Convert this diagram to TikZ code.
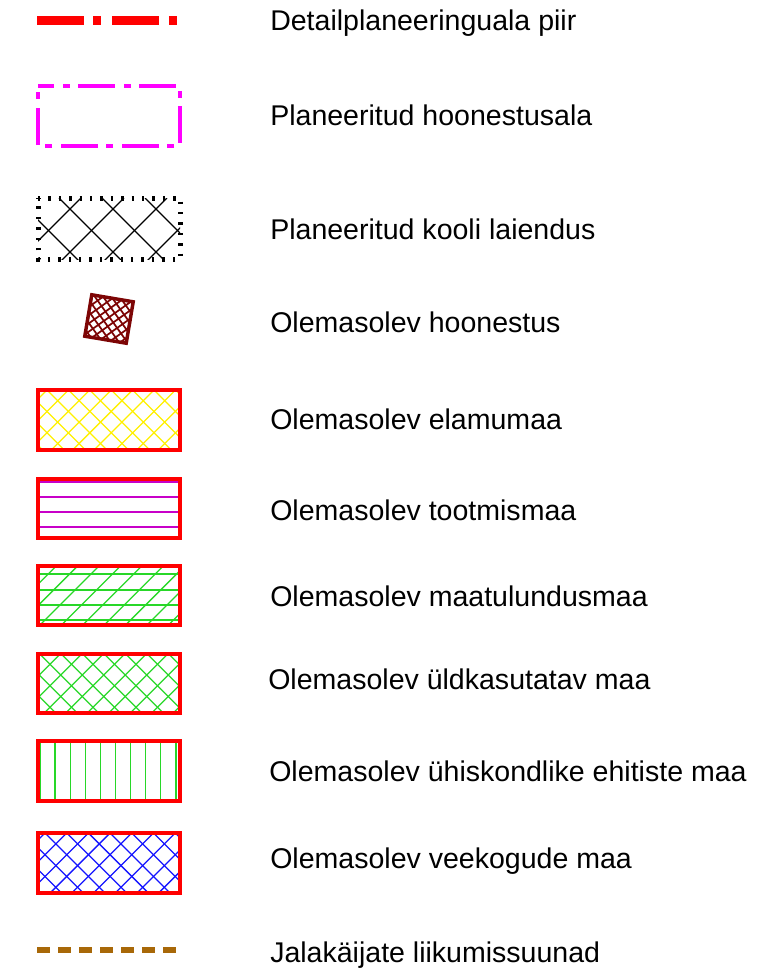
\documentclass[tikz,border=0pt]{standalone}
\usepackage{fontspec}
\setmainfont{Liberation Sans}
\usetikzlibrary{positioning}
\definecolor{dpred}{RGB}{255,0,0}
\definecolor{hmag}{RGB}{255,0,255}
\definecolor{tmag}{RGB}{200,0,200}
\definecolor{hgreen}{RGB}{40,215,40}
\definecolor{hblue}{RGB}{20,20,255}
\definecolor{hyellow}{RGB}{255,240,0}
\definecolor{bldred}{RGB}{125,5,5}
\definecolor{pathbrown}{RGB}{168,104,8}
\tikzset{
  legendtext/.style={anchor=base west, inner sep=0pt, font=\fontsize{21.4}{25}\selectfont},
  zoneframe/.style={draw=dpred, line width=3pt},
  hatchline/.style={line width=0.95pt},
}
% crossed hatch in a box: x1,y1,x2,y2,colour,offset of \ lines,offset of / lines,spacing
\newcommand\crosshatch[8]{%
  \begin{scope}
    \clip (#1,#2) rectangle (#3,#4);
    \foreach \k in {-8,...,14}{
      \draw[hatchline,#5] ({#6+\k*#8},#2) -- ++(90,90);
      \draw[hatchline,#5] ({#7+\k*#8},#2) -- ++(-90,90);
    }
  \end{scope}}
\begin{document}
\begin{tikzpicture}[x=0.75pt,y=-0.75pt]
  \useasboundingbox (0,0) rectangle (763,978);
  \draw[dpred, line width=6.75pt,
    dash pattern=on 35.25pt off 7.1pt on 6pt off 8.25pt] (37,20) -- (177.5,20);
  \node[legendtext] (piir) at (270,31) {Detailplaneeringuala piir};
  \draw[hmag, line width=3pt,
    dash pattern=on 27.75pt off 6.75pt on 5pt off 6.25pt, dash phase=15.75pt]
    (38,86) -- (180,86) -- (180,146) -- (38,146) -- cycle;
  \node[legendtext] (hoonestusala) at (270,125) {Planeeritud hoonestusala};
  \crosshatch{38}{198}{180}{259}{black}{16}{38}{43}
  \draw[black, line width=3.75pt, dash pattern=on 1.8pt off 6pt]
    (38,198) -- (180,198) -- (180,259) -- (38,259) -- cycle;
  \node[legendtext] (laiendus) at (270,239) {Planeeritud kooli laiendus};
  \begin{scope}[shift={(109,319)}, rotate=-9.6]
    \begin{scope}
      \clip (-21,-21) rectangle (21,21);
      \foreach \k in {-6,...,6}{
        \draw[bldred, line width=1.3pt] ({\k*9.5},-21) -- ++(45,45);
        \draw[bldred, line width=1.3pt] ({\k*9.5},-21) -- ++(-45,45);
      }
    \end{scope}
    \draw[bldred, line width=2.6pt] (-21,-21) rectangle (21,21);
  \end{scope}
  \node[legendtext] (hoonestus) at (270,332) {Olemasolev hoonestus};
  \crosshatch{37.5}{390}{179.5}{450}{hyellow}{47}{47}{21.4}
  \draw[zoneframe] (37.5,390) rectangle (179.5,450);
  \node[legendtext] (elamumaa) at (270,429) {Olemasolev elamumaa};
  \foreach \y in {482,497,512,527}
    \draw[hatchline,tmag] (37.5,\y) -- (179.5,\y);
  \draw[zoneframe] (37.5,478.5) rectangle (179.5,537.5);
  \node[legendtext] (tootmismaa) at (270,520) {Olemasolev tootmismaa};
  \begin{scope}
    \clip (37.5,566) rectangle (179.5,625);
    \foreach \y in {574,590,605,620}
      \draw[hatchline,hgreen] (37.5,\y) -- (179.5,\y);
    \foreach \k in {-4,...,7}
      \draw[hatchline,hgreen] ({40+\k*21.4},625) -- ++(70,-70);
  \end{scope}
  \draw[zoneframe] (37.5,566) rectangle (179.5,625);
  \node[legendtext] (maatulundusmaa) at (270,606) {Olemasolev maatulundusmaa};
  \crosshatch{37.5}{653.5}{179.5}{713}{hgreen}{39.3}{39.3}{21.5}
  \draw[zoneframe] (37.5,653.5) rectangle (179.5,713);
  \node[legendtext] (yldkasutatav) at (268,689) {Olemasolev üldkasutatav maa};
  \foreach \k in {0,...,9}
    \draw[hatchline,hgreen] ({40+\k*15.1},741) -- ({40+\k*15.1},800.5);
  \draw[zoneframe] (37.5,741) rectangle (179.5,800.5);
  \node[legendtext] (yhiskondlike) at (269,781) {Olemasolev ühiskondlike ehitiste maa};
  \crosshatch{37.5}{833}{179.5}{893}{hblue}{45}{45}{21.7}
  \draw[zoneframe] (37.5,833) rectangle (179.5,893);
  \node[legendtext] (veekogude) at (270,868) {Olemasolev veekogude maa};
  \draw[pathbrown, line width=4.5pt, dash pattern=on 9.75pt off 6pt] (37,950) -- (176,950);
  \node[legendtext] (liikumissuunad) at (270,962) {Jalakäijate liikumissuunad};
\end{tikzpicture}
\end{document}
